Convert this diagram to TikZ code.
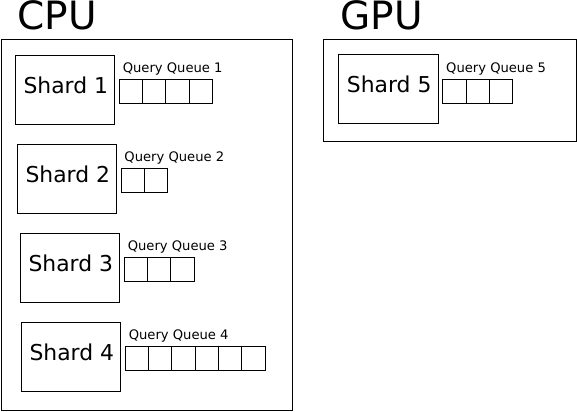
\documentclass[tikz,border=0pt]{standalone}
\usepackage{fontspec}
\setmainfont{DejaVu Sans}
\begin{document}
\begin{tikzpicture}[x=0.75pt,y=-0.75pt,
  frame/.style={draw=black, line width=0.75pt, inner sep=0pt, outer sep=0pt, anchor=north west},
  titletext/.style={inner sep=0pt, anchor=base west, font=\fontsize{29.25pt}{35pt}\selectfont},
  shardtext/.style={inner sep=0pt, anchor=base, font=\fontsize{16.4pt}{19pt}\selectfont},
  qtext/.style={inner sep=0pt, anchor=base west, font=\fontsize{9.85pt}{12pt}\selectfont},
  cell/.style={draw=black, line width=0.75pt, inner sep=0pt, outer sep=0pt, anchor=north west,
    minimum width={23.33*0.75pt}, minimum height={24*0.75pt}},
  shard/.style={frame, minimum width={99.4*0.75pt}, minimum height={68.7*0.75pt}}]
\useasboundingbox (0,0) rectangle (577,411);
% containers
\node[frame, minimum width={291*0.75pt}, minimum height={371*0.75pt}] (cpu) at (1,39) {};
\node[frame, minimum width={253.5*0.75pt}, minimum height={102*0.75pt}] (gpu) at (323,39) {};
\node[titletext] (cputitle) at (17,29) {CPU};
\node[titletext] (gputitle) at (340,29) {GPU};
% shards
\foreach \n/\sx/\sy in {1/15.3/55.3, 2/17.3/144.3, 3/20.3/233.3, 4/21.3/322.3, 5/338.7/54.7}{
  \node[shard] (shard\n) at (\sx,\sy) {};
  \node[shardtext] (shardlabel\n) at (\sx+50.5,\sy+38) {Shard \n};
}
% queues
\foreach \n/\qx/\qy/\k in {1/119.3/79.3/4, 2/121/168.3/2, 3/124.3/257.3/3, 4/125.3/346/6, 5/442.7/79/3}{
  \node[qtext] (qlabel\n) at (\qx+3.2,\qy-7) {Query Queue \n};
  \foreach \i in {1,...,\k}{
    \node[cell] (q\n c\i) at (\qx+\i*23.33-23.33,\qy) {};
  }
}
\end{tikzpicture}
\end{document}
